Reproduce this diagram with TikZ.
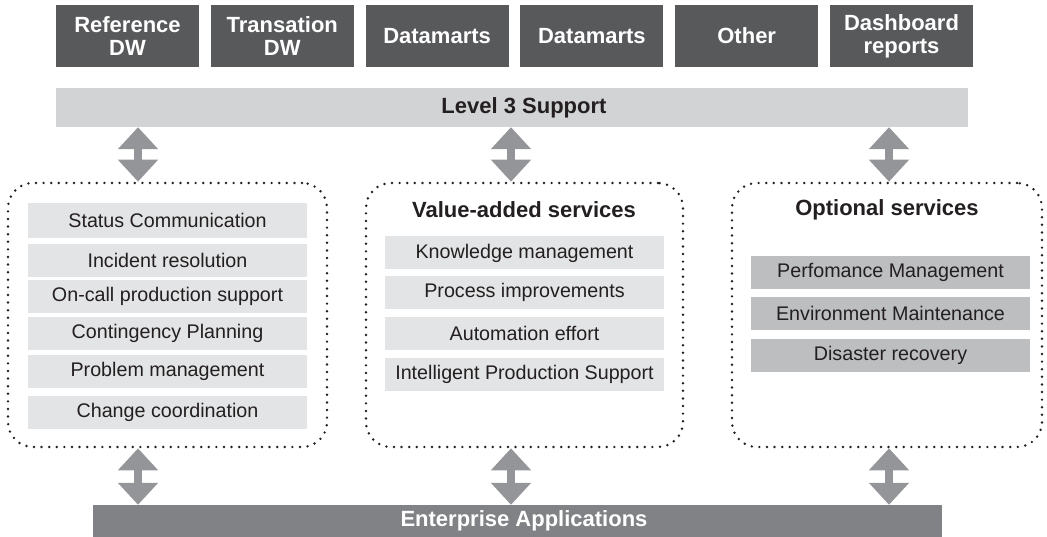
\documentclass[tikz,border=0pt]{standalone}
\usepackage{fontspec}
\setmainfont{Liberation Sans}
\usetikzlibrary{arrows.meta}
\definecolor{topc}{HTML}{58595B}
\definecolor{levc}{HTML}{D1D3D4}
\definecolor{arrc}{HTML}{939598}
\definecolor{litem}{HTML}{E3E4E5}
\definecolor{ditem}{HTML}{BCBEC0}
\definecolor{entc}{HTML}{808285}
\definecolor{txt}{HTML}{231F20}
\tikzset{
  topbox/.style={fill=topc,text=white,font=\bfseries\fontsize{22}{23}\selectfont,align=center,minimum width=143,minimum height=62,inner sep=0},
  bar/.style={inner sep=0,font=\bfseries\fontsize{22}{24}\selectfont},
  group/.style={draw=txt,line width=2.7pt,dash pattern=on 0pt off 7.6pt,line cap=round,rounded corners=25pt,inner sep=0},
  item/.style={fill=litem,text=txt,font=\fontsize{19.7}{22}\selectfont,minimum width=279,minimum height=33,inner sep=0},
  ditembox/.style={item,fill=ditem},
  title/.style={text=txt,font=\bfseries\fontsize{22}{24}\selectfont,inner sep=0},
  dblarrow/.style={draw=arrc,line width=8pt,{Triangle[length=22pt 0,width=39pt 0,fill=arrc]}-{Triangle[length=22pt 0,width=39pt 0,fill=arrc]}}
}
\begin{document}
\begin{tikzpicture}[x=1pt,y=-1pt]
\useasboundingbox (0,0) rectangle (1047,537);
% top boxes
\node[topbox] (t1) at (127.5,36) {Reference\\DW};
\node[topbox] (t2) at (282.3,36) {Transation\\DW};
\node[topbox] (t3) at (437.1,36) {Datamarts};
\node[topbox] (t4) at (591.9,36) {Datamarts};
\node[topbox] (t5) at (746.7,36) {Other};
\node[topbox] (t6) at (901.5,36) {Dashboard\\reports};
% level 3 bar
\node[bar,fill=levc,minimum width=912,minimum height=39] (l3) at (512,107.5) {};
\node[title] (l3t) at (524,107.5) {Level 3 Support};
% groups
\node[group,minimum width=319,minimum height=264] (g1) at (167.5,315) {};
\node[group,minimum width=317,minimum height=264] (g2) at (524.5,315) {};
\node[group,minimum width=310,minimum height=264] (g3) at (887,315) {};
% left items
\node[item,minimum height=35] (a1) at (167.5,220.5) {Status Communication};
\node[item] (a2) at (167.5,260.5) {Incident resolution};
\node[item] (a3) at (167.5,296.5) {On-call production support};
\node[item] (a4) at (167.5,333.5) {Contingency Planning};
\node[item] (a5) at (167.5,371.5) {Problem management};
\node[item] (a6) at (167.5,412.5) {Change coordination};
% middle
\node[title] (vt) at (524,210) {Value-added services};
\node[item] (b1) at (524.5,253) {Knowledge management};
\node[item] (b2) at (524.5,292.5) {Process improvements};
\node[item] (b3) at (524.5,333.5) {Automation effort};
\node[item] (b4) at (524.5,374.5) {Intelligent Production Support};
% right
\node[title] (ot) at (887,210) {Optional services};
\node[ditembox] (c1) at (890.5,272.5) {Perfomance Management};
\node[ditembox] (c2) at (890.5,313.5) {Environment Maintenance};
\node[ditembox] (c3) at (890.5,355.5) {Disaster recovery};
% enterprise bar
\node[bar,fill=entc,minimum width=849,minimum height=32] (ent) at (517.5,521) {};
\node[title,text=white] (entt) at (524,521) {Enterprise Applications};
% arrow columns
\coordinate (x1) at (138,0);
\coordinate (x2) at (511,0);
\coordinate (x3) at (889,0);
\draw[dblarrow] (l3.south -| x1) -- (g1.north -| x1);
\draw[dblarrow] (l3.south -| x2) -- (g2.north -| x2);
\draw[dblarrow] (l3.south -| x3) -- (g3.north -| x3);
\draw[dblarrow] (g1.south -| x1) -- (ent.north -| x1);
\draw[dblarrow] (g2.south -| x2) -- (ent.north -| x2);
\draw[dblarrow] (g3.south -| x3) -- (ent.north -| x3);
\end{tikzpicture}
\end{document}
